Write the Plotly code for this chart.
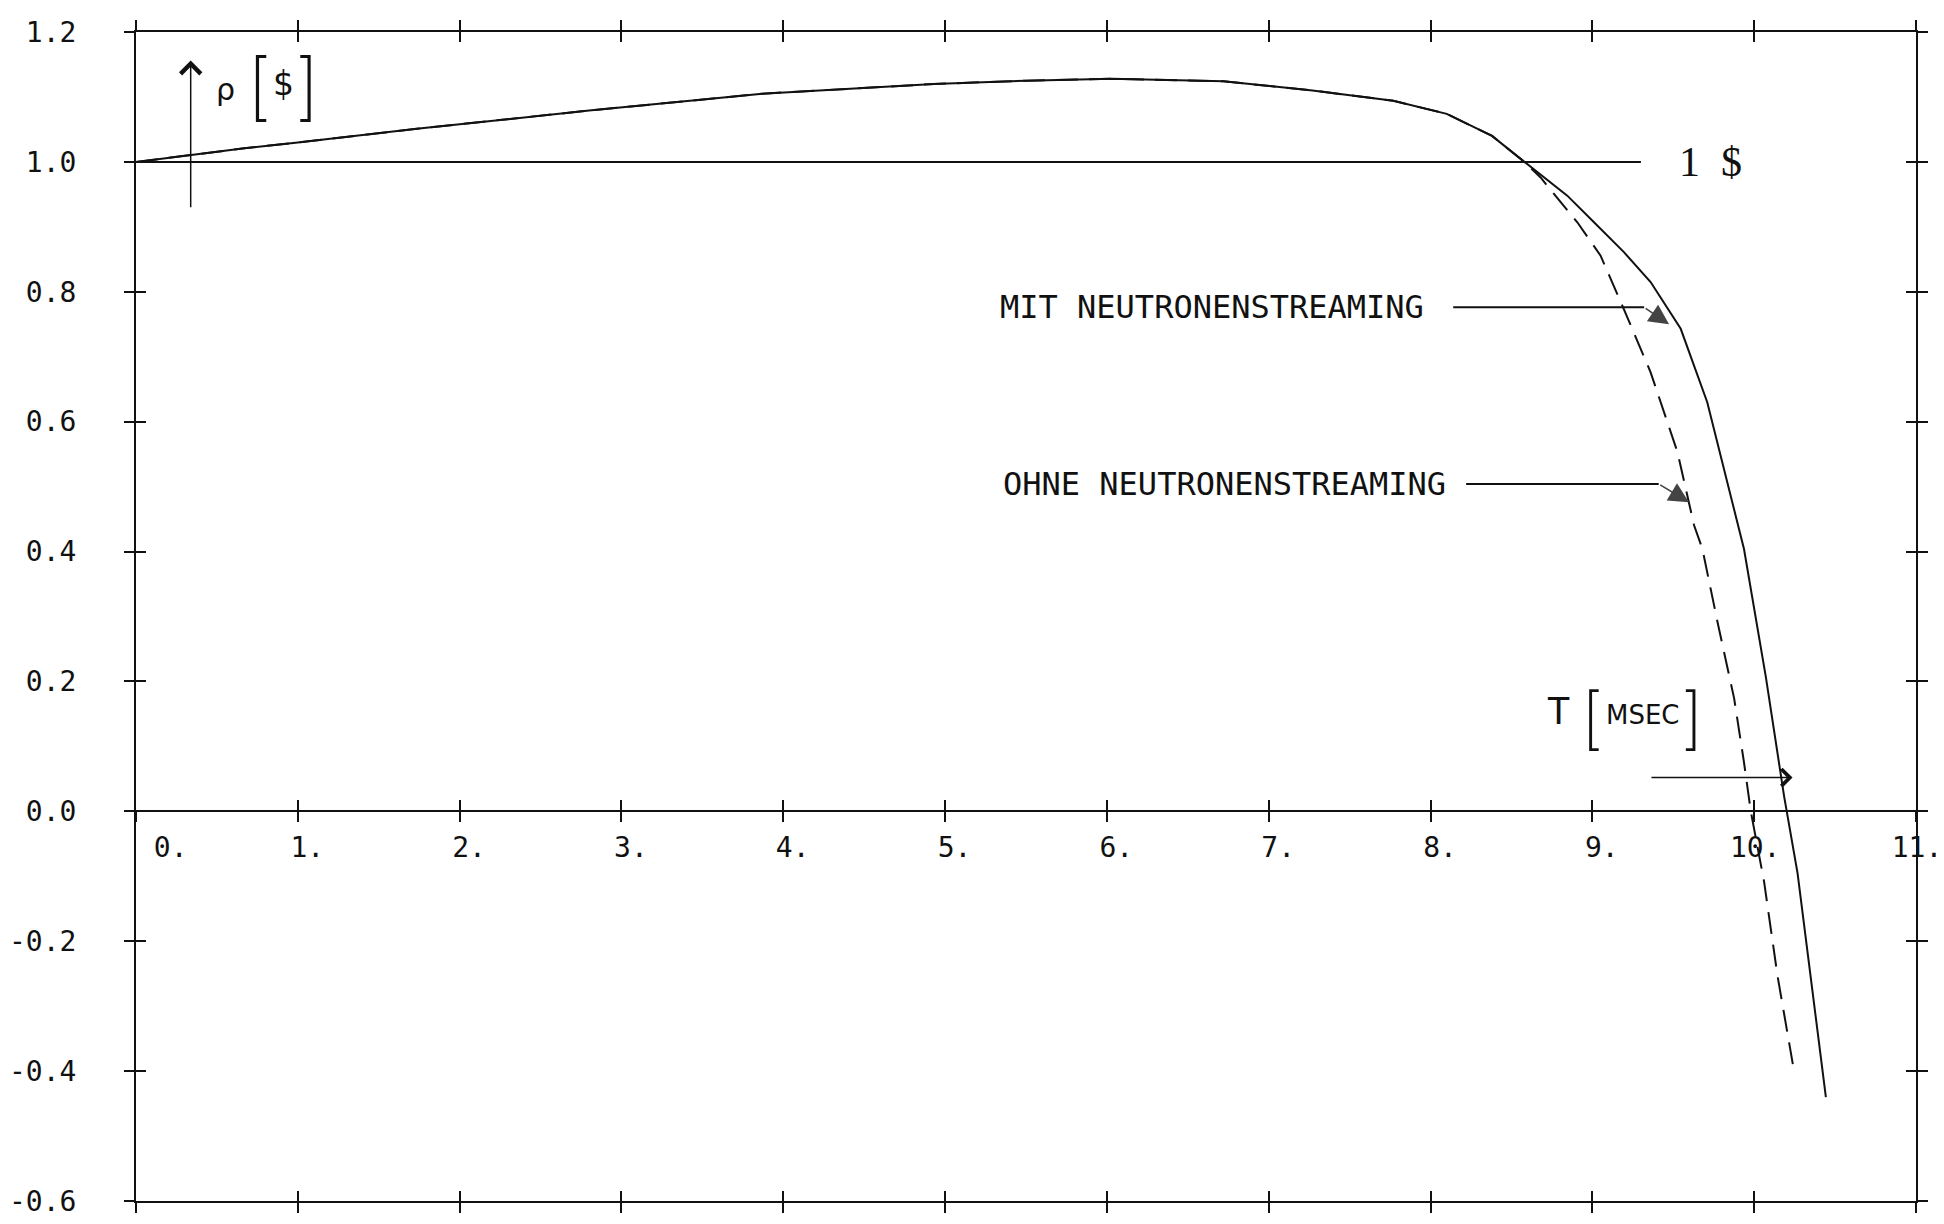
import plotly.graph_objects as go

# ---------------- data ----------------
t_mit = [0.0, 0.67, 1.0, 1.735, 2.8, 3.87, 4.93, 5.5, 6.03, 6.72, 7.27, 7.77, 8.1, 8.38,
         8.58, 8.845, 9.01, 9.195, 9.36, 9.546, 9.71, 9.835, 9.937, 10.072, 10.185,
         10.268, 10.443]
rho_mit = [1.0, 1.021, 1.030, 1.051, 1.079, 1.105, 1.120, 1.125, 1.128, 1.124, 1.110,
           1.094, 1.074, 1.040, 1.0, 0.948, 0.907, 0.861, 0.815, 0.743, 0.630, 0.506,
           0.404, 0.207, 0.023, -0.095, -0.440]

t_ohne = [0.0, 0.67, 1.0, 1.735, 2.8, 3.87, 4.93, 5.5, 6.03, 6.72, 7.27, 7.77, 8.1, 8.38,
          8.58, 8.68, 8.907, 9.05, 9.195, 9.36, 9.526, 9.629, 9.68, 9.773, 9.876, 9.937,
          9.979, 10.061, 10.144, 10.247]
rho_ohne = [1.0, 1.021, 1.030, 1.051, 1.079, 1.105, 1.120, 1.125, 1.128, 1.124, 1.110,
            1.094, 1.074, 1.040, 1.0, 0.976, 0.907, 0.856, 0.773, 0.676, 0.553, 0.440,
            0.404, 0.292, 0.174, 0.0755, 0.0, -0.108, -0.253, -0.401]

ref_line_x = [0.0, 9.30]
ref_line_y = [1.0, 1.0]

x_tick_vals = list(range(12))
x_tick_labels = ["0.", "1.", "2.", "3.", "4.", "5.", "6.", "7.", "8.", "9.", "10.", "11."]
y_tick_vals = [-0.6, -0.4, -0.2, 0.0, 0.2, 0.4, 0.6, 0.8, 1.0, 1.2]
y_tick_labels = ["-0.6", "-0.4", "-0.2", "0.0", "0.2", "0.4", "0.6", "0.8", "1.0", "1.2"]

x_range = [0, 11]
y_range = [-0.6, 1.2]

# annotation anchors (data coordinates)
mit_label = "MIT NEUTRONENSTREAMING"
ohne_label = "OHNE NEUTRONENSTREAMING"
mit_leader_x = [8.14, 9.32, 9.474]
mit_leader_y = [0.776, 0.776, 0.750]
ohne_leader_x = [8.22, 9.41, 9.597]
ohne_leader_y = [0.504, 0.504, 0.476]
t_arrow_x = [9.356, 10.237]
t_arrow_y = [0.052, 0.052]
rho_arrow_x = [0.338, 0.338]
rho_arrow_y = [0.928, 1.156]

INK = "#111111"
MONO = "DejaVu Sans Mono"

# pad single-digit x labels so they sit like the plotter output
def pad(lbl):
    if lbl == "0.":
        return "\u00a0" * 4 + lbl
    if len(lbl) == 2:
        return "\u00a0" + lbl
    return lbl

x_tick_text = [pad(s) for s in x_tick_labels]

fig = go.Figure()

fig.add_trace(go.Scatter(x=ref_line_x, y=ref_line_y, mode="lines",
                         line=dict(color=INK, width=2), hoverinfo="skip"))
fig.add_trace(go.Scatter(x=t_ohne, y=rho_ohne, mode="lines", name="OHNE",
                         line=dict(color=INK, width=2, dash="22px,11px")))
fig.add_trace(go.Scatter(x=t_mit, y=rho_mit, mode="lines", name="MIT",
                         line=dict(color=INK, width=2)))

# leader lines of the labels
fig.add_trace(go.Scatter(x=mit_leader_x[:2], y=mit_leader_y[:2], mode="lines",
                         line=dict(color=INK, width=2), hoverinfo="skip"))
fig.add_trace(go.Scatter(x=ohne_leader_x[:2], y=ohne_leader_y[:2], mode="lines",
                         line=dict(color=INK, width=2), hoverinfo="skip"))

# dummy traces so the overlay axes (tick crosses) exist
fig.add_trace(go.Scatter(x=[None], y=[None], xaxis="x2", yaxis="y2", hoverinfo="skip"))
fig.add_trace(go.Scatter(x=[None], y=[None], xaxis="x3", yaxis="y", hoverinfo="skip"))
fig.add_trace(go.Scatter(x=[None], y=[None], xaxis="x4", yaxis="y", hoverinfo="skip"))

zero_pos = (0 - y_range[0]) / (y_range[1] - y_range[0])

common_x = dict(range=x_range, tickvals=x_tick_vals, showgrid=False, zeroline=False,
                tickcolor=INK, tickwidth=2, ticklen=10, linecolor=INK, linewidth=2,
                automargin=False)
common_y = dict(range=y_range, tickvals=y_tick_vals, showgrid=False, zeroline=False,
                tickcolor=INK, tickwidth=2, ticklen=10, linecolor=INK, linewidth=2,
                automargin=False)

# the page body adds an 8 px margin, so the figure is 8 px smaller than the window
fig.update_layout(
    width=1936, height=1216,
    margin=dict(l=128, r=28, t=24, b=23),
    paper_bgcolor="white", plot_bgcolor="white",
    showlegend=False,
    xaxis=dict(**common_x, anchor="y", ticks="outside", mirror="ticks",
               showline=True, showticklabels=False),
    xaxis2=dict(**common_x, overlaying="x", anchor="y2", ticks="inside", mirror="ticks",
                showline=False, showticklabels=False),
    # zero line: inside ticks + labels
    xaxis3=dict(**common_x, overlaying="x", anchor="free", position=zero_pos,
                ticks="inside", showline=True, showticklabels=True,
                ticktext=x_tick_text, ticklabelshift=1, ticklabelstandoff=11,
                ticklabeloverflow="allow",
                tickfont=dict(family=MONO, size=28, color=INK)),
    # zero line: outside ticks
    xaxis4=dict(**common_x, overlaying="x", anchor="free", position=zero_pos,
                ticks="outside", showline=False, showticklabels=False, side="bottom"),
    yaxis=dict(**common_y, anchor="x", ticks="outside", mirror="ticks", showline=True,
               ticktext=y_tick_labels, ticklabelstandoff=42,
               tickfont=dict(family=MONO, size=28, color=INK)),
    yaxis2=dict(**common_y, overlaying="y", anchor="x2", ticks="inside", mirror="ticks",
                showline=False, showticklabels=False),
)

ann = []
# curve labels
ann.append(dict(x=5.33, y=mit_leader_y[0], text=mit_label, showarrow=False,
                xanchor="left", yanchor="middle",
                font=dict(family=MONO, size=32, color=INK)))
ann.append(dict(x=5.345, y=ohne_leader_y[0], text=ohne_label, showarrow=False,
                xanchor="left", yanchor="middle",
                font=dict(family=MONO, size=32, color=INK)))
# filled arrow heads of the leaders
ann.append(dict(x=mit_leader_x[2], y=mit_leader_y[2], ax=mit_leader_x[1], ay=mit_leader_y[1],
                axref="x", ayref="y", xref="x", yref="y", text="", showarrow=True,
                arrowhead=2, arrowsize=2.5, arrowwidth=1.6, arrowcolor="#444444", standoff=0))
ann.append(dict(x=ohne_leader_x[2], y=ohne_leader_y[2], ax=ohne_leader_x[1], ay=ohne_leader_y[1],
                axref="x", ayref="y", xref="x", yref="y", text="", showarrow=True,
                arrowhead=2, arrowsize=2.5, arrowwidth=1.6, arrowcolor="#444444", standoff=0))
# 1 $ marker
ann.append(dict(x=9.52, y=1.0, text="1\u00a0\u00a0$", showarrow=False, xanchor="left",
                yanchor="middle", font=dict(family="Liberation Serif", size=42, color=INK)))
# rho [$] axis label
ann.append(dict(x=rho_arrow_x[1], y=rho_arrow_y[1], ax=rho_arrow_x[0], ay=rho_arrow_y[0],
                axref="x", ayref="y", text="", showarrow=True, arrowhead=4, arrowsize=2.6,
                arrowwidth=1.5, arrowcolor=INK, standoff=0))
ann.append(dict(x=0.554, y=1.112, text="ρ", showarrow=False, xanchor="center",
                yanchor="middle", font=dict(family="DejaVu Sans", size=30, color=INK)))
ann.append(dict(x=0.764, y=1.119, text="[", showarrow=False, xanchor="center",
                yanchor="middle", font=dict(family="Inter", size=74, color=INK, weight=200)))
ann.append(dict(x=0.914, y=1.121, text="$", showarrow=False, xanchor="center",
                yanchor="middle", font=dict(family="DejaVu Sans", size=33, color=INK)))
ann.append(dict(x=1.062, y=1.119, text="]", showarrow=False, xanchor="center",
                yanchor="middle", font=dict(family="Inter", size=74, color=INK, weight=200)))
# T [MSEC] axis label
ann.append(dict(x=8.79, y=0.155, text="T", showarrow=False, xanchor="center",
                yanchor="middle", font=dict(family="Liberation Sans", size=38, color=INK, weight=300)))
ann.append(dict(x=9.0, y=0.146, text="[", showarrow=False, xanchor="center",
                yanchor="middle", font=dict(family="Inter", size=68, color=INK, weight=200)))
ann.append(dict(x=9.31, y=0.149, text="MSEC", showarrow=False, xanchor="center",
                yanchor="middle", font=dict(family="DejaVu Sans", size=26, color=INK)))
ann.append(dict(x=9.62, y=0.146, text="]", showarrow=False, xanchor="center",
                yanchor="middle", font=dict(family="Inter", size=68, color=INK, weight=200)))
ann.append(dict(x=t_arrow_x[1], y=t_arrow_y[1], ax=t_arrow_x[0], ay=t_arrow_y[0],
                axref="x", ayref="y", text="", showarrow=True, arrowhead=4, arrowsize=2.2,
                arrowwidth=1.5, arrowcolor=INK, standoff=0))

fig.update_layout(annotations=ann)

fig.write_html("out.html")
